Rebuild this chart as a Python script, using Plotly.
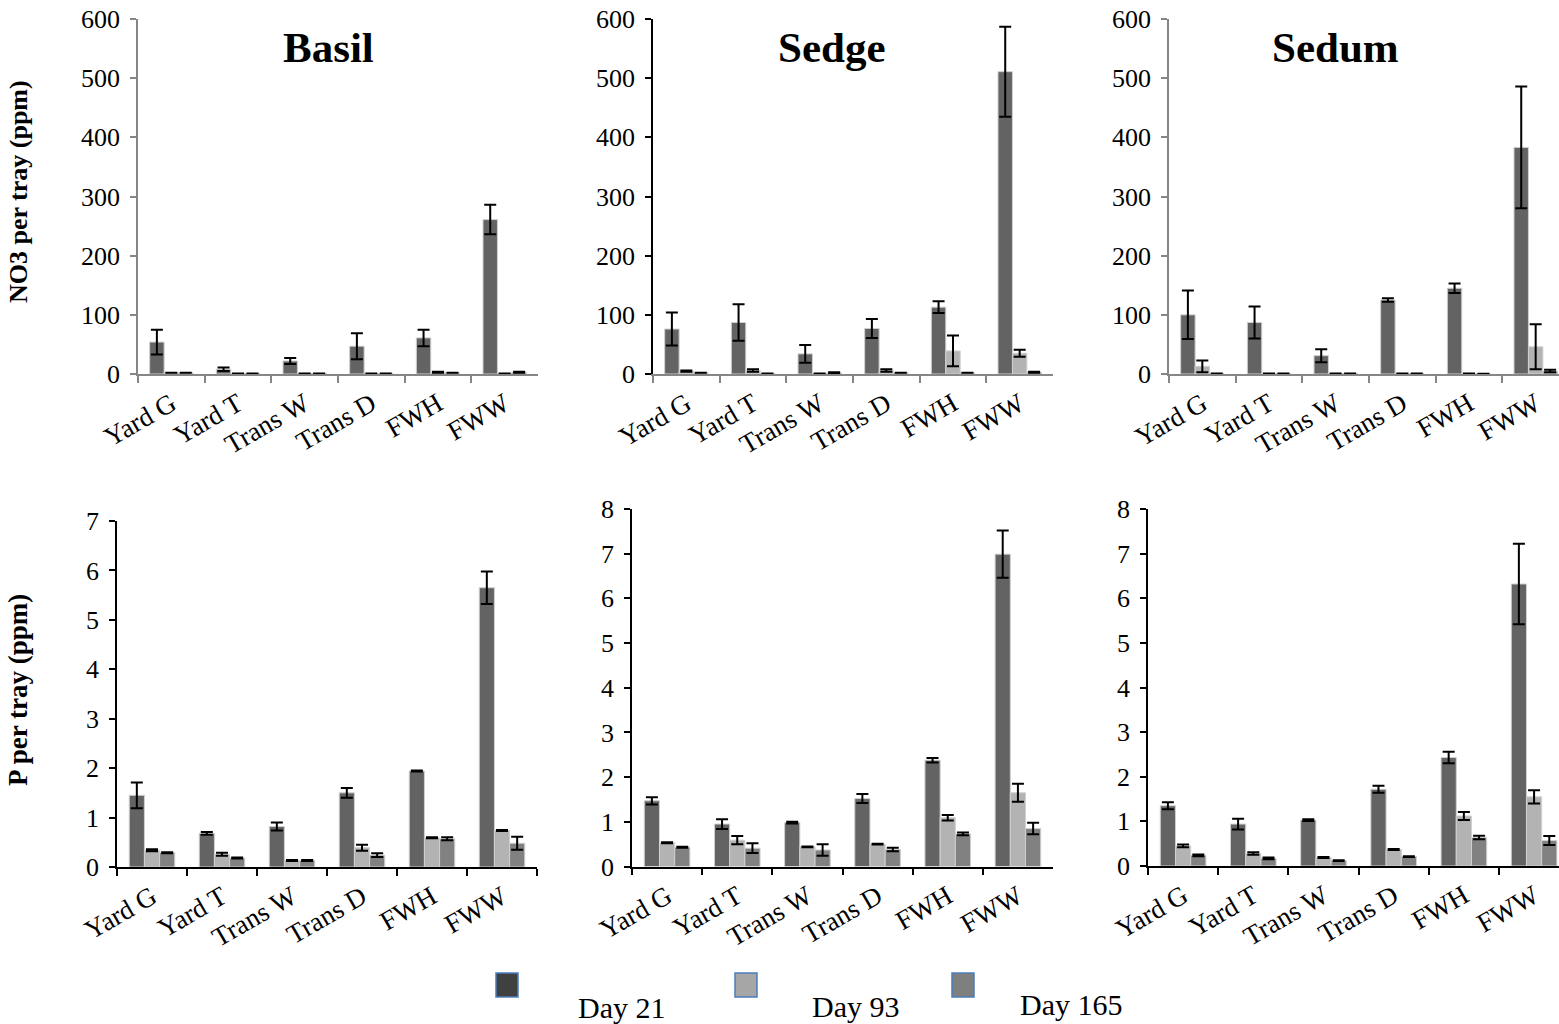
import plotly.graph_objects as go

categories = ["Yard G", "Yard T", "Trans W", "Trans D", "FWH", "FWW"]
series_names = ["Day 21", "Day 93", "Day 165"]

# NO3 per tray (ppm)
basil_no3_d21 = [54, 8, 22, 47, 61, 261]
basil_no3_d93 = [2, 1, 1, 1, 3, 1]
basil_no3_d165 = [2, 1, 1, 1, 2, 3]
basil_no3_e21 = [21, 3, 5, 22, 14, 25]
basil_no3_e93 = [0, 0, 0, 0, 1, 0]
basil_no3_e165 = [0, 0, 0, 0, 0, 1]

sedge_no3_d21 = [76, 87, 34, 77, 113, 511]
sedge_no3_d93 = [5, 6, 1, 6, 39, 35]
sedge_no3_d165 = [2, 1, 2, 2, 2, 3]
sedge_no3_e21 = [28, 31, 15, 16, 10, 76]
sedge_no3_e93 = [1, 2, 0, 2, 26, 6]
sedge_no3_e165 = [0, 0, 1, 0, 0, 1]

sedum_no3_d21 = [100, 87, 31, 125, 145, 383]
sedum_no3_d93 = [13, 1, 1, 1, 1, 46]
sedum_no3_d165 = [1, 1, 1, 1, 0.5, 5]
sedum_no3_e21 = [41, 27, 11, 3, 8, 103]
sedum_no3_e93 = [10, 0, 0, 0, 0, 38]
sedum_no3_e165 = [0, 0, 0, 0, 0, 2]

# P per tray (ppm)
basil_p_d21 = [1.45, 0.68, 0.82, 1.50, 1.94, 5.65]
basil_p_d93 = [0.34, 0.26, 0.13, 0.39, 0.59, 0.74]
basil_p_d165 = [0.29, 0.18, 0.13, 0.24, 0.57, 0.48]
basil_p_e21 = [0.26, 0.03, 0.08, 0.10, 0.01, 0.33]
basil_p_e93 = [0.02, 0.03, 0.01, 0.06, 0.01, 0.01]
basil_p_e165 = [0.01, 0.01, 0.01, 0.04, 0.03, 0.13]

sedge_p_d21 = [1.47, 0.95, 0.98, 1.52, 2.38, 6.99]
sedge_p_d93 = [0.53, 0.59, 0.44, 0.50, 1.09, 1.65]
sedge_p_d165 = [0.43, 0.41, 0.37, 0.38, 0.73, 0.85]
sedge_p_e21 = [0.08, 0.11, 0.02, 0.10, 0.05, 0.53]
sedge_p_e93 = [0.01, 0.09, 0.01, 0.01, 0.06, 0.20]
sedge_p_e165 = [0.01, 0.11, 0.13, 0.04, 0.03, 0.13]

sedum_p_d21 = [1.35, 0.94, 1.03, 1.72, 2.43, 6.32]
sedum_p_d93 = [0.45, 0.28, 0.19, 0.37, 1.12, 1.55]
sedum_p_d165 = [0.24, 0.17, 0.12, 0.21, 0.64, 0.57]
sedum_p_e21 = [0.08, 0.12, 0.02, 0.08, 0.13, 0.90]
sedum_p_e93 = [0.03, 0.03, 0.01, 0.01, 0.09, 0.15]
sedum_p_e165 = [0.02, 0.02, 0.01, 0.01, 0.04, 0.10]

plant_titles = ["Basil", "Sedge", "Sedum"]

bar_colors = ["#636363", "#b3b3b3", "#818181"]
legend_colors = ["#404040", "#a6a6a6", "#7f7f7f"]

panels = [
    ([basil_no3_d21, basil_no3_d93, basil_no3_d165], [basil_no3_e21, basil_no3_e93, basil_no3_e165], ""),
    ([sedge_no3_d21, sedge_no3_d93, sedge_no3_d165], [sedge_no3_e21, sedge_no3_e93, sedge_no3_e165], "2"),
    ([sedum_no3_d21, sedum_no3_d93, sedum_no3_d165], [sedum_no3_e21, sedum_no3_e93, sedum_no3_e165], "3"),
    ([basil_p_d21, basil_p_d93, basil_p_d165], [basil_p_e21, basil_p_e93, basil_p_e165], "4"),
    ([sedge_p_d21, sedge_p_d93, sedge_p_d165], [sedge_p_e21, sedge_p_e93, sedge_p_e165], "5"),
    ([sedum_p_d21, sedum_p_d93, sedum_p_d165], [sedum_p_e21, sedum_p_e93, sedum_p_e165], "6"),
]

W, H = 1559, 1024
FONT = "Liberation Serif, Times New Roman, serif"

fig = go.Figure()
for vals, errs, sfx in panels:
    for i in range(3):
        fig.add_trace(go.Bar(
            x=categories, y=vals[i], name=series_names[i],
            marker=dict(color=bar_colors[i], line=dict(color="#d0d0d0", width=1)),
            error_y=dict(type="data", array=errs[i], visible=True,
                         color="black", thickness=2, width=6),
            xaxis="x" + sfx, yaxis="y" + sfx, showlegend=False,
        ))

def px_x(v):
    return v / W

def px_y(v):
    return 1 - v / H

layouts = [
    (138, 538, 374, 19, 600, 100, [-0.5, 5.5], "#868686", "#868686"),
    (653, 1053, 374, 19, 600, 100, [-0.5, 5.5], "black", "#868686"),
    (1169, 1559, 374, 19, 600, 100, [-0.5, 5.35], "#868686", "#868686"),
    (117, 537, 867, 521, 7, 1, [-0.5, 5.5], "black", "black"),
    (632, 1053, 866.5, 509, 8, 1, [-0.5, 5.5], "black", "black"),
    (1148, 1559, 866, 509, 8, 1, [-0.5, 5.355], "black", "black"),
]

lay = {}
for k, (x0, x1, yz, yt, ymax, dt, xr, ycol, xcol) in enumerate(layouts):
    sfx = "" if k == 0 else str(k + 1)
    lay["xaxis" + sfx] = dict(
        domain=[px_x(x0), px_x(x1)], anchor="y" + sfx, range=xr,
        type="category", tickson="boundaries", ticks="outside", ticklen=7,
        tickwidth=1.5, tickcolor=xcol, showline=True, linecolor=xcol, linewidth=1.5,
        tickangle=-30, tickfont=dict(family=FONT, size=27, color="black"),
        ticklabelstandoff=2,
        showgrid=False, zeroline=False, fixedrange=True, automargin=False,
    )
    lay["yaxis" + sfx] = dict(
        domain=[px_y(yz), px_y(yt)], anchor="x" + sfx, range=[0, ymax],
        dtick=dt, tick0=0, ticks="outside", ticklen=6, tickwidth=1.5,
        tickcolor=ycol, showline=True, linecolor=ycol, linewidth=1.5,
        tickfont=dict(family=FONT, size=26, color="black"),
        ticklabelstandoff=5,
        showgrid=False, zeroline=False, fixedrange=True, automargin=False,
    )

fig.update_layout(**lay)
fig.update_layout(
    width=W, height=H, margin=dict(l=0, r=0, t=0, b=0, pad=0),
    paper_bgcolor="white", plot_bgcolor="rgba(0,0,0,0)",
    barmode="group", bargap=0.35, bargroupgap=0.0,
    font=dict(family=FONT, color="black"),
)

annotations = []
title_x = [328, 832, 1335]
for t, xc in zip(plant_titles, title_x):
    annotations.append(dict(text="<b>%s</b>" % t, x=px_x(xc), y=px_y(47), xref="paper", yref="paper",
                            showarrow=False, xanchor="center", yanchor="middle",
                            font=dict(family=FONT, size=43, color="black")))
annotations.append(dict(text="<b>NO3 per tray (ppm)</b>", x=px_x(18), y=px_y(192), xref="paper", yref="paper",
                        showarrow=False, textangle=-90, xanchor="center", yanchor="middle",
                        font=dict(family=FONT, size=26, color="black")))
annotations.append(dict(text="<b>P per tray (ppm)</b>", x=px_x(18), y=px_y(690), xref="paper", yref="paper",
                        showarrow=False, textangle=-90, xanchor="center", yanchor="middle",
                        font=dict(family=FONT, size=27, color="black")))

shapes = []
sq_x = [496, 735, 952]
txt_pos = [(621, 1007), (855, 1006), (1071, 1004)]
for name, col, sx, (tx, ty) in zip(series_names, legend_colors, sq_x, txt_pos):
    shapes.append(dict(type="rect", xref="paper", yref="paper",
                       x0=px_x(sx), x1=px_x(sx + 22), y0=px_y(997), y1=px_y(973),
                       fillcolor=col, line=dict(color="#4a7ebb", width=1.5)))
    annotations.append(dict(text=name, x=px_x(tx), y=px_y(ty), xref="paper", yref="paper",
                            showarrow=False, xanchor="center", yanchor="middle",
                            font=dict(family=FONT, size=30, color="black")))

fig.update_layout(annotations=annotations, shapes=shapes)
fig.write_html("out.html", config={"displayModeBar": False})
